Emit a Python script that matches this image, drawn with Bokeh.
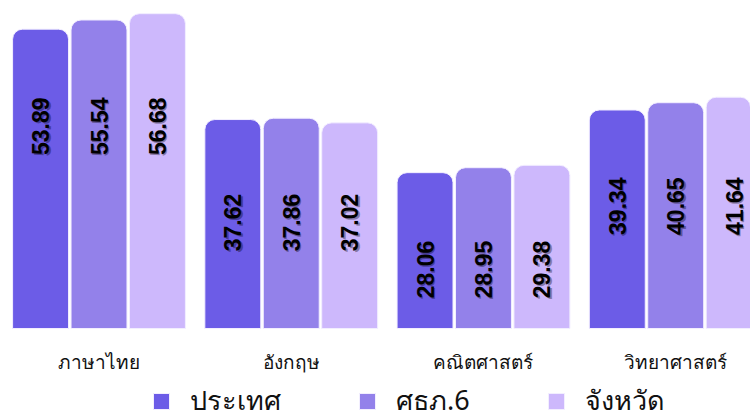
from bokeh.plotting import figure
from bokeh.models import ColumnDataSource, Range1d, Legend, LegendItem
from bokeh.core.properties import value
from bokeh.embed import file_html
from bokeh.resources import INLINE
import math

categories = ["ภาษาไทย", "อังกฤษ", "คณิตศาสตร์", "วิทยาศาสตร์"]
series_names = ["ประเทศ", "ศธภ.6", "จังหวัด"]
country = [53.89, 37.62, 28.06, 39.34]
region6 = [55.54, 37.86, 28.95, 40.65]
province = [56.68, 37.02, 29.38, 41.64]
colors = ["#6C5CE7", "#9381EA", "#CDB8FC"]

series = [country, region6, province]
n = len(categories)
xs = list(range(n))
bar_w = 0.291
step = 0.304
offsets = [-step, 0.0, step]

p = figure(width=750, height=417, output_backend="svg", toolbar_location=None,
           x_range=Range1d(-0.5124, 3.389), y_range=Range1d(-16.02, 59.05),
           min_border_left=0, min_border_right=0, min_border_top=0, min_border_bottom=0)
p.outline_line_color = None
p.xgrid.visible = False
p.ygrid.visible = False
p.xaxis.visible = False
p.yaxis.visible = False
p.background_fill_color = "white"

# category labels under each group
cat_src = ColumnDataSource(dict(x=xs, y=[0] * n, t=categories))
p.text(x="x", y="y", text="t", source=cat_src, y_offset=33,
       text_align="center", text_baseline="middle",
       text_font=value("Noto Sans"), text_font_size="19px", text_color="#111111")

# label centre per group, derived from the group mean
means = [sum(s[i] for s in series) / len(series) for i in range(n)]
label_y = [m * 0.97 - 17.3 for m in means]

renderers = []
for k, (vals, col) in enumerate(zip(series, colors)):
    src = ColumnDataSource(dict(
        x=[x + offsets[k] for x in xs], top=vals, ly=label_y,
        txt=[f"{v:.2f}" for v in vals]))
    r = p.vbar(x="x", top="top", width=bar_w, bottom=0, source=src,
               fill_color=col, line_color="#F2EEFF", line_width=1,
               border_radius=(10, 10, 0, 0))
    renderers.append(r)
    p.text(x="x", y="ly", text="txt", source=src, angle=math.pi / 2,
           text_align="center", text_baseline="middle",
           text_font=value("Liberation Sans"), text_font_style="bold",
           text_font_size="23px", text_color="black", text_alpha=0.35,
           x_offset=1.5, y_offset=1.5)
    p.text(x="x", y="ly", text="txt", source=src, angle=math.pi / 2,
           text_align="center", text_baseline="middle",
           text_font=value("Liberation Sans"), text_font_style="bold",
           text_font_size="23px", text_color="black")

legend = Legend(items=[LegendItem(label=nm, renderers=[r]) for nm, r in zip(series_names, renderers)],
                orientation="horizontal", location=(151, -5),
                glyph_width=20, glyph_height=20, label_standoff=19, spacing=76,
                label_text_font="Noto Sans", label_text_font_size="27px",
                label_text_color="#111111", border_line_color=None,
                padding=0, margin=0, background_fill_alpha=0)
p.add_layout(legend)

open("out.html", "w").write(file_html(p, INLINE))
